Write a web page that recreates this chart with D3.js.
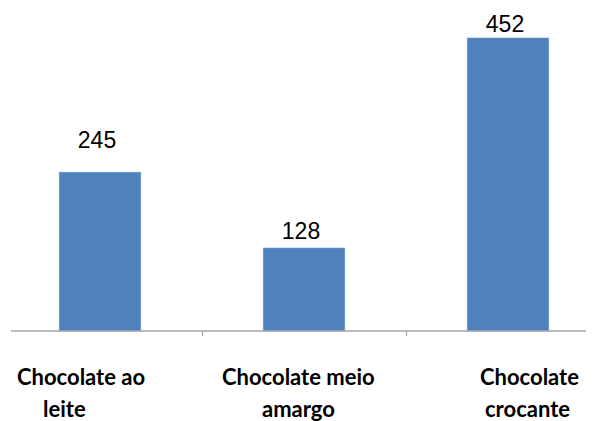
<!DOCTYPE html>
<html>
<head>
<meta charset="utf-8">
<script src="https://cdn.jsdelivr.net/npm/d3@7"></script>
<style>
	body { margin: 0; background: #fff; }
	svg { display: block; }
</style>
</head>
<body>
<svg width="595" height="421"></svg>
<script>
var categories = ["Chocolate ao leite", "Chocolate meio amargo", "Chocolate crocante"];
var values = [245, 128, 452];
var labelLines = [["Chocolate ao", "leite"], ["Chocolate meio", "amargo"], ["Chocolate", "crocante"]];

// layout
var baseY = 331;
var labelOffsets = [[-83, -57], [-82, -42], [-28, -23]];
var valueGap = [24, 9, 6];

var svg = d3.select("svg");

var x = d3.scaleBand()
	.domain(categories)
	.range([-2, 610])
	.paddingInner(0.6)
	.paddingOuter(0.3);

var y = d3.scaleLinear()
	.domain([0, 452])
	.range([baseY, 38]);

// bars
svg.selectAll("rect.bar")
	.data(values)
	.enter().append("rect")
	.attr("class", "bar")
	.attr("x", function(d, i) { return x(categories[i]); })
	.attr("y", function(d) { return y(d); })
	.attr("width", x.bandwidth())
	.attr("height", function(d) { return baseY - y(d); })
	.style("fill", "#4f81bd")
	.style("stroke", "#6f98cc")
	.style("stroke-width", 0.6);

// value labels
svg.selectAll("text.value")
	.data(values)
	.enter().append("text")
	.attr("class", "value")
	.attr("x", function(d, i) { return x(categories[i]) + x.bandwidth() / 2 - 3; })
	.attr("y", function(d, i) { return y(d) - valueGap[i]; })
	.attr("text-anchor", "middle")
	.style("font", "23px 'Liberation Sans', Arial, sans-serif")
	.style("fill", "#000")
	.text(function(d) { return d; });

// axis line and ticks between categories
svg.append("path")
	.attr("d", "M11," + baseY + " L586," + baseY)
	.attr("stroke", "#a6a6a6")
	.attr("stroke-width", 1.5)
	.attr("fill", "none");

var step = x.step();
svg.selectAll("path.tick")
	.data(categories.slice(1))
	.enter().append("path")
	.attr("class", "tick")
	.attr("d", function(d) {
		var tx = Math.round(x(d) - x.paddingInner() * step / 2) + 0.5;
		return "M" + tx + "," + baseY + " L" + tx + "," + (baseY + 5);
	})
	.attr("stroke", "#a6a6a6")
	.attr("stroke-width", 1.2);

// category labels
svg.selectAll("text.cat")
	.data(categories)
	.enter().append("text")
	.attr("class", "cat")
	.style("font", "bold 22px Lato, 'Open Sans', sans-serif")
	.style("fill", "#000")
	.each(function(d, i) {
		var cx = x(d) + x.bandwidth() / 2;
		var t = d3.select(this);
		labelLines[i].forEach(function(line, j) {
			t.append("tspan")
				.attr("x", cx + labelOffsets[i][j])
				.attr("y", 385 + j * 32)
				.text(line);
		});
	});
</script>
</body>
</html>
